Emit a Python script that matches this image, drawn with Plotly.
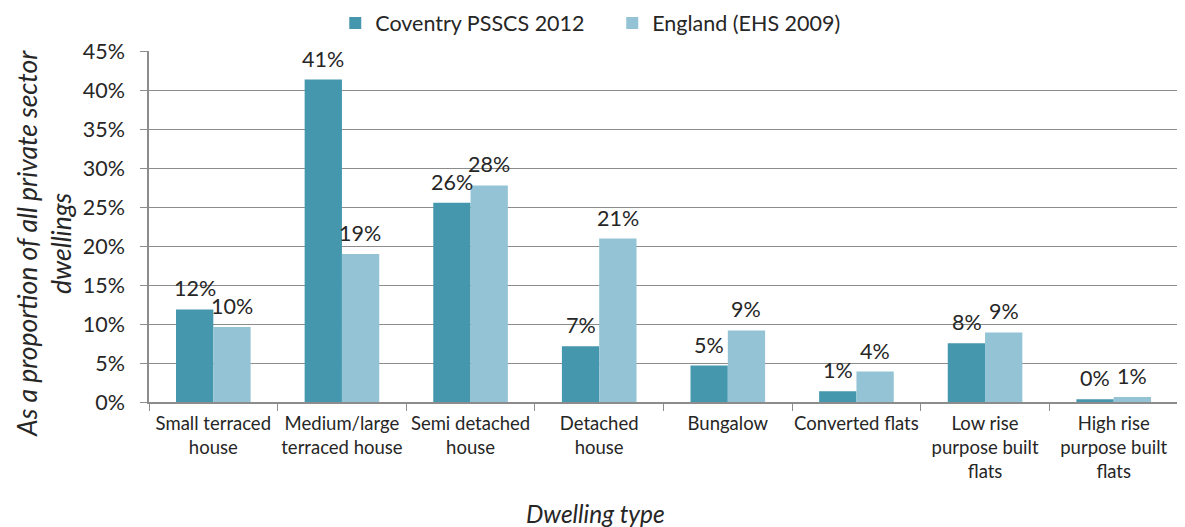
import plotly.graph_objects as go

categories = ["Small terraced<br>house", "Medium/large<br>terraced house", "Semi detached<br>house",
              "Detached<br>house", "Bungalow", "Converted flats",
              "Low rise<br>purpose built<br>flats", "High rise<br>purpose built<br>flats"]
coventry = [11.86, 41.34, 25.55, 7.14, 4.68, 1.39, 7.53, 0.35]
england = [9.6, 18.97, 27.76, 20.95, 9.18, 3.9, 8.92, 0.65]
series_names = ["Coventry PSSCS 2012", "England (EHS 2009)"]
colors = ["#4597ae", "#93c3d5"]
ytick_vals = [0, 5, 10, 15, 20, 25, 30, 35, 40, 45]

FONT = "Lato, 'Open Sans', sans-serif"
TXT = "#262626"

fig = go.Figure()
for name, vals, col in zip(series_names, [coventry, england], colors):
    fig.add_trace(go.Bar(x=categories, y=vals, name=name, marker=dict(color=col, line=dict(width=0))))

annotations = []
for vals, sh in [(coventry, -18.5), (england, 18.5)]:
    for c, v in zip(categories, vals):
        annotations.append(dict(x=c, y=v, xref="x", yref="y", text=f"{int(v + 0.5)}%",
                                showarrow=False, xshift=sh, yshift=6, yanchor="bottom",
                                font=dict(family=FONT, size=21.5, color=TXT)))
annotations.append(dict(text="<i>Dwelling type</i>", xref="paper", yref="paper", x=0.434, y=0,
                        xanchor="center", yanchor="middle", yshift=-111, showarrow=False,
                        font=dict(family=FONT, size=24.5, color=TXT)))
annotations.append(dict(text="<i>As a proportion of all private sector<br>dwellings</i>",
                        xref="paper", yref="paper", x=0, y=0.45, xshift=-105,
                        xanchor="center", yanchor="middle", textangle=-90, showarrow=False,
                        font=dict(family=FONT, size=26.5, color=TXT)))

fig.update_layout(
    width=1177, height=519,
    paper_bgcolor="white", plot_bgcolor="white",
    margin=dict(l=141, r=7, t=43, b=125, autoexpand=False),
    barmode="group", bargap=0.42, bargroupgap=0,
    font=dict(family=FONT, color=TXT),
    legend=dict(orientation="h", x=0.181, xanchor="left", y=1.08, yanchor="middle",
                font=dict(family=FONT, size=21.5, color=TXT), traceorder="normal",
                itemwidth=30, entrywidth=232, tracegroupgap=0),
    annotations=annotations,
    xaxis=dict(tickson="boundaries", ticks="outside", ticklen=7, tickcolor="#8c8c8c",
               showline=True, linecolor="#8c8c8c", linewidth=1.5, tickangle=0, ticklabelstandoff=4,
               tickfont=dict(family=FONT, size=18.5, color=TXT)),
    yaxis=dict(range=[0, 45], tickvals=ytick_vals, ticktext=[f"{v}%" for v in ytick_vals],
               showgrid=True, gridcolor="#8c8c8c", gridwidth=1.2,
               ticks="outside", ticklen=7, tickcolor="#8c8c8c", ticklabelstandoff=11,
               showline=True, linecolor="#8c8c8c", linewidth=1.5, zeroline=False,
               tickfont=dict(family=FONT, size=21.5, color=TXT)),
)
fig.write_html("out.html")
